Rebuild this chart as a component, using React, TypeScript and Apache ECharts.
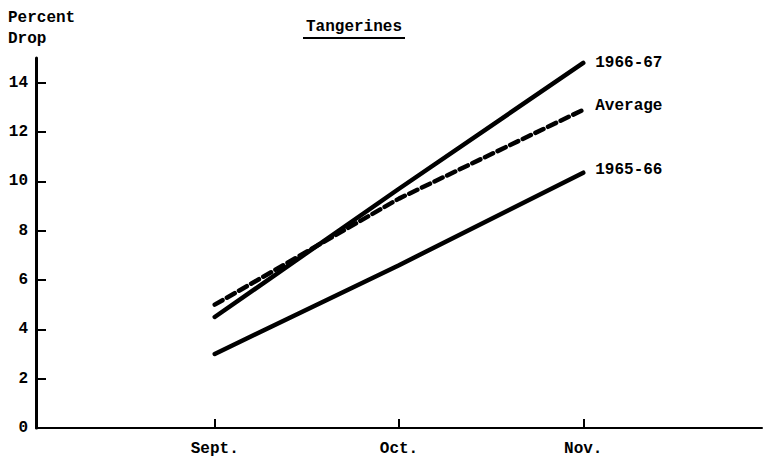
import React, { useEffect, useRef } from "react";
import * as echarts from "echarts";

const categories = ["Sept.", "Oct.", "Nov."];
const catPositions = [1, 2, 3];
const s1966 = [4.5, 9.7, 14.8];
const sAverage = [5.0, 9.3, 12.9];
const s1965 = [3.0, 6.6, 10.35];
const yTicks = [0, 2, 4, 6, 8, 10, 12, 14];

const FONT = '"Liberation Mono", "DejaVu Sans Mono", monospace';

export default function App() {
  const ref = useRef<HTMLDivElement>(null);
  useEffect(() => {
    if (!ref.current) return;
    const chart = echarts.init(ref.current, undefined, { renderer: "svg" });
    const mk = (name: string, vals: number[], dashed: boolean, label: string, offsetY: number) => ({
      type: "line",
      name,
      data: vals.map((v, i) => [catPositions[i], v]),
      symbol: "none",
      lineStyle: { color: "#000", width: 4.5, type: dashed ? [9, 5] : "solid", cap: "round" },
      endLabel: {
        show: true,
        formatter: label,
        color: "#000",
        fontFamily: FONT,
        fontWeight: "bold",
        fontSize: 16,
        distance: 12,
        offset: [0, offsetY],
      },
    });
    chart.setOption({
      animation: false,
      backgroundColor: "#fff",
      grid: { left: 36, right: 3, top: 58, bottom: 33 },
      xAxis: {
        type: "value",
        min: 0.03,
        max: 3.97,
        axisLine: { show: true, lineStyle: { color: "#000", width: 2 } },
        splitLine: { show: false },
        axisTick: {
          show: true,
          inside: true,
          length: 9,
          customValues: catPositions,
          lineStyle: { color: "#000", width: 2 },
        },
        axisLabel: {
          customValues: catPositions,
          formatter: (v: number) => categories[catPositions.indexOf(Math.round(v))] ?? "",
          color: "#000",
          fontFamily: FONT,
          fontWeight: "bold",
          fontSize: 16,
          margin: 13,
        },
      },
      yAxis: {
        type: "value",
        min: 0,
        max: 15,
        axisLine: { show: true, lineStyle: { color: "#000", width: 3 } },
        splitLine: { show: false },
        axisTick: {
          show: true,
          inside: true,
          length: 10,
          customValues: yTicks,
          lineStyle: { color: "#000", width: 2 },
        },
        axisLabel: {
          customValues: yTicks,
          color: "#000",
          fontFamily: FONT,
          fontWeight: "bold",
          fontSize: 16,
          margin: 8,
        },
      },
      graphic: [
        {
          type: "text",
          left: 8,
          top: 7,
          style: {
            text: "Percent\nDrop",
            fill: "#000",
            font: `bold 16px ${FONT}`,
            lineHeight: 21,
          },
        },
        {
          type: "text",
          x: 354,
          y: 19,
          style: {
            text: "Tangerines",
            fill: "#000",
            font: `bold 16px ${FONT}`,
            textAlign: "center",
          },
        },
        {
          type: "line",
          shape: { x1: 303, y1: 38, x2: 405, y2: 38 },
          style: { stroke: "#000", lineWidth: 2 },
        },
      ],
      series: [
        mk("1966-67", s1966, false, "1966-67", 0),
        mk("Average", sAverage, true, "Average", -4),
        mk("1965-66", s1965, false, "1965-66", -3),
      ],
    });
    return () => chart.dispose();
  }, []);
  return <div ref={ref} style={{ width: 765, height: 461, position: "absolute", left: 0, top: 0 }} />;
}
